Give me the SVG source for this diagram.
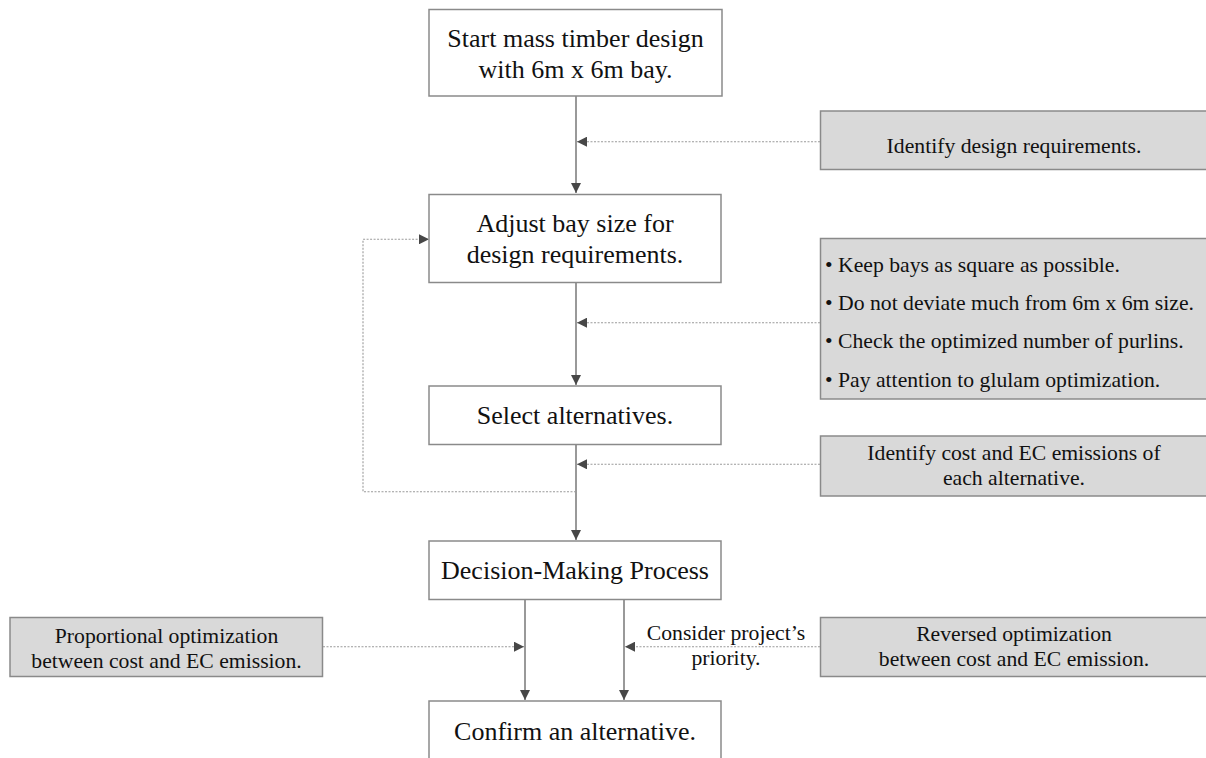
<svg xmlns="http://www.w3.org/2000/svg" width="1206" height="758" viewBox="0 0 1206 758">
  <style>
    .step { fill: #ffffff; stroke: #8a8a8a; stroke-width: 1.5; }
    .note { fill: #d9d9d9; stroke: #8a8a8a; stroke-width: 1.5; }
    .big { font-family: "Liberation Serif", "Times New Roman", serif; font-size: 26px; fill: #111; text-anchor: middle; }
    .small { font-family: "Liberation Serif", "Times New Roman", serif; font-size: 21.7px; fill: #111; text-anchor: middle; }
    .left { text-anchor: start; }
    .flow { fill: none; stroke: #6e6e6e; stroke-width: 1.4; }
    .hint { fill: none; stroke: #9a9a9a; stroke-width: 1.1; stroke-dasharray: 2 1.5; }
  </style>
  <defs>
    <marker id="head" markerUnits="userSpaceOnUse" markerWidth="11" markerHeight="10" refX="10" refY="5" orient="auto" viewBox="0 0 11 10">
      <path d="M0,0 L10,5 L0,10 Z" fill="#474747"/>
    </marker>
  </defs>

  <rect width="1206" height="758" fill="#ffffff"/>

  <!-- connectors -->
  <g id="connectors">
    <!-- main flow -->
    <path class="flow" d="M576,96 V193" marker-end="url(#head)"/>
    <path class="flow" d="M576,282 V385" marker-end="url(#head)"/>
    <path class="flow" d="M576,444 V540" marker-end="url(#head)"/>
    <path class="flow" d="M525,599 V700" marker-end="url(#head)"/>
    <path class="flow" d="M624,599 V700" marker-end="url(#head)"/>
    <!-- inputs from the notes -->
    <path class="hint" d="M820,141.7 H577" marker-end="url(#head)"/>
    <path class="hint" d="M820,322.7 H577" marker-end="url(#head)"/>
    <path class="hint" d="M820,464.3 H577" marker-end="url(#head)"/>
    <path class="hint" d="M323,646.7 H524" marker-end="url(#head)"/>
    <path class="hint" d="M820,646.7 H625" marker-end="url(#head)"/>
    <!-- feedback loop -->
    <path class="hint" d="M576,491.7 H363 V239.3 H429" marker-end="url(#head)"/>
  </g>

  <g id="start">
    <rect class="step" x="429" y="9.5" width="293" height="86.5"/>
    <text class="big" x="575.5" y="46.5">Start mass timber design</text>
    <text class="big" x="575.5" y="77.5">with 6m x 6m bay.</text>
  </g>

  <g id="adjust">
    <rect class="step" x="429" y="194.5" width="292" height="88"/>
    <text class="big" x="575" y="232">Adjust bay size for</text>
    <text class="big" x="575" y="263">design requirements.</text>
  </g>

  <g id="select">
    <rect class="step" x="429" y="386" width="292" height="58.5"/>
    <text class="big" x="575" y="424">Select alternatives.</text>
  </g>

  <g id="decision">
    <rect class="step" x="429" y="541" width="292" height="58.5"/>
    <text class="big" x="575" y="579">Decision-Making Process</text>
  </g>

  <g id="confirm">
    <rect class="step" x="429" y="701" width="292" height="80"/>
    <text class="big" x="575" y="740">Confirm an alternative.</text>
  </g>

  <g id="requirements">
    <rect class="note" x="820.5" y="111" width="390" height="58.5"/>
    <text class="small" x="1014" y="153">Identify design requirements.</text>
  </g>

  <g id="guidelines">
    <rect class="note" x="820.5" y="238.5" width="390" height="160.5"/>
    <text class="small left" x="825" y="271.5">• Keep bays as square as possible.</text>
    <text class="small left" x="825" y="310">• Do not deviate much from 6m x 6m size.</text>
    <text class="small left" x="825" y="348">• Check the optimized number of purlins.</text>
    <text class="small left" x="825" y="386.5">• Pay attention to glulam optimization.</text>
  </g>

  <g id="emissions">
    <rect class="note" x="820.5" y="436" width="390" height="60"/>
    <text class="small" x="1014" y="460">Identify cost and EC emissions of</text>
    <text class="small" x="1014" y="485">each alternative.</text>
  </g>

  <g id="proportional">
    <rect class="note" x="10" y="617.5" width="312.5" height="59"/>
    <text class="small" x="166.5" y="642.5">Proportional optimization</text>
    <text class="small" x="166.5" y="668">between cost and EC emission.</text>
  </g>

  <g id="priority">
    <text class="small" x="726" y="640">Consider project’s</text>
    <text class="small" x="726" y="665">priority.</text>
  </g>

  <g id="reversed">
    <rect class="note" x="820.5" y="617.5" width="390" height="59"/>
    <text class="small" x="1014" y="640.5">Reversed optimization</text>
    <text class="small" x="1014" y="666">between cost and EC emission.</text>
  </g>
</svg>
